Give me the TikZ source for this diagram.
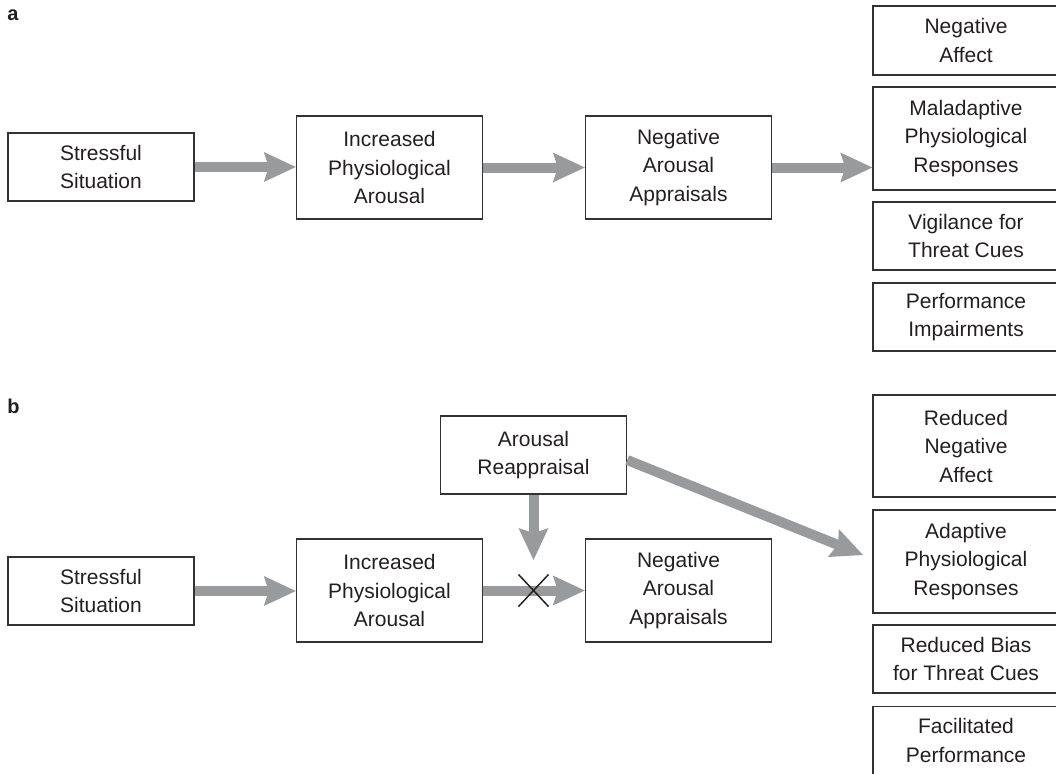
\documentclass[tikz,border=0pt]{standalone}
\usepackage{fontspec}
\setmainfont{Liberation Sans}
\usetikzlibrary{arrows.meta}
\definecolor{arrowgray}{RGB}{153,154,156}
\definecolor{boxline}{RGB}{50,50,50}
\definecolor{ink}{RGB}{35,31,32}

\begin{document}
\begin{tikzpicture}[x=1pt,y=-1pt,
  box/.style={draw=boxline, line width=1.4pt, text=ink, align=center,
    inner sep=0pt, font=\fontsize{21}{28.5}\selectfont, minimum width=186pt},
  flow/.style={draw=arrowgray, line width=10pt,
    -{Stealth[length=32pt,width=30pt,inset=5pt,line width=0pt,fill=arrowgray]}},
  panel/.style={font=\fontsize{20}{24}\selectfont\bfseries, text=ink, inner sep=0pt}]

\useasboundingbox (0,0) rectangle (1056,773);
\clip (0,0) rectangle (1056,773);

% ---------- panel a ----------
\node[panel] (la) at (13,15) {a};
\node[box, minimum height=68pt]  (sa)  at (101,167)   {Stressful\\Situation};
\node[box, minimum height=103pt] (ia)  at (389.5,167.5) {Increased\\Physiological\\Arousal};
\node[box, minimum height=103pt] (na)  at (678.5,167.5) {Negative\\Arousal\\Appraisals};
\node[box, minimum height=69pt]  (ra1) at (966,40.5)  {Negative\\Affect};
\node[box, minimum height=103pt] (ra2) at (966,138.5) {Maladaptive\\Physiological\\Responses};
\node[box, minimum height=68pt]  (ra3) at (966,236)   {Vigilance for\\Threat Cues};
\node[box, minimum height=68pt]  (ra4) at (966,317)   {Performance\\Impairments};

\draw[flow] (sa.east) -- (sa.east -| ia.west);
\draw[flow] (ia.east) -- (na.west);
\draw[flow] (na.east) -- (na.east -| ra2.west);

% ---------- panel b ----------
\node[panel] (lb) at (13.5,406.5) {b};
\node[box, minimum height=68pt]  (sb)  at (101,591)     {Stressful\\Situation};
\node[box, minimum height=103pt] (ib)  at (389.5,590.5) {Increased\\Physiological\\Arousal};
\node[box, minimum height=103pt] (nb)  at (678.5,590.5) {Negative\\Arousal\\Appraisals};
\node[box, minimum height=78pt]  (ar)  at (533.5,455)   {Arousal\\Reappraisal};
\node[box, minimum height=102pt] (rb1) at (966,446)     {Reduced\\Negative\\Affect};
\node[box, minimum height=103pt] (rb2) at (966,561.5)   {Adaptive\\Physiological\\Responses};
\node[box, minimum height=68pt]  (rb3) at (966,659)     {Reduced Bias\\for Threat Cues};
% last box runs on past the lower edge, its text sits near its top
\node[box, anchor=north, inner ysep=12pt, text depth=80pt] (rb4) at (966,706)
  {Facilitated\\Performance};

\coordinate (cut)   at (533.5,590.5);
\coordinate (vtip)  at (533.5,560);
\coordinate (dtip)  at (863,555);

\draw[flow] (sb.east) -- (sb.east -| ib.west);
\draw[flow] (ib.east) -- (nb.west);
\draw[flow] (ar.south) -- (vtip);
\draw[flow] ([yshift=-5pt]ar.east) -- (dtip);

% blocked link
\draw[ink, line width=1.5pt] ([shift={(-15,-16)}]cut) -- ([shift={(15,16)}]cut);
\draw[ink, line width=1.5pt] ([shift={(-15,16)}]cut) -- ([shift={(15,-16)}]cut);
\end{tikzpicture}
\end{document}
